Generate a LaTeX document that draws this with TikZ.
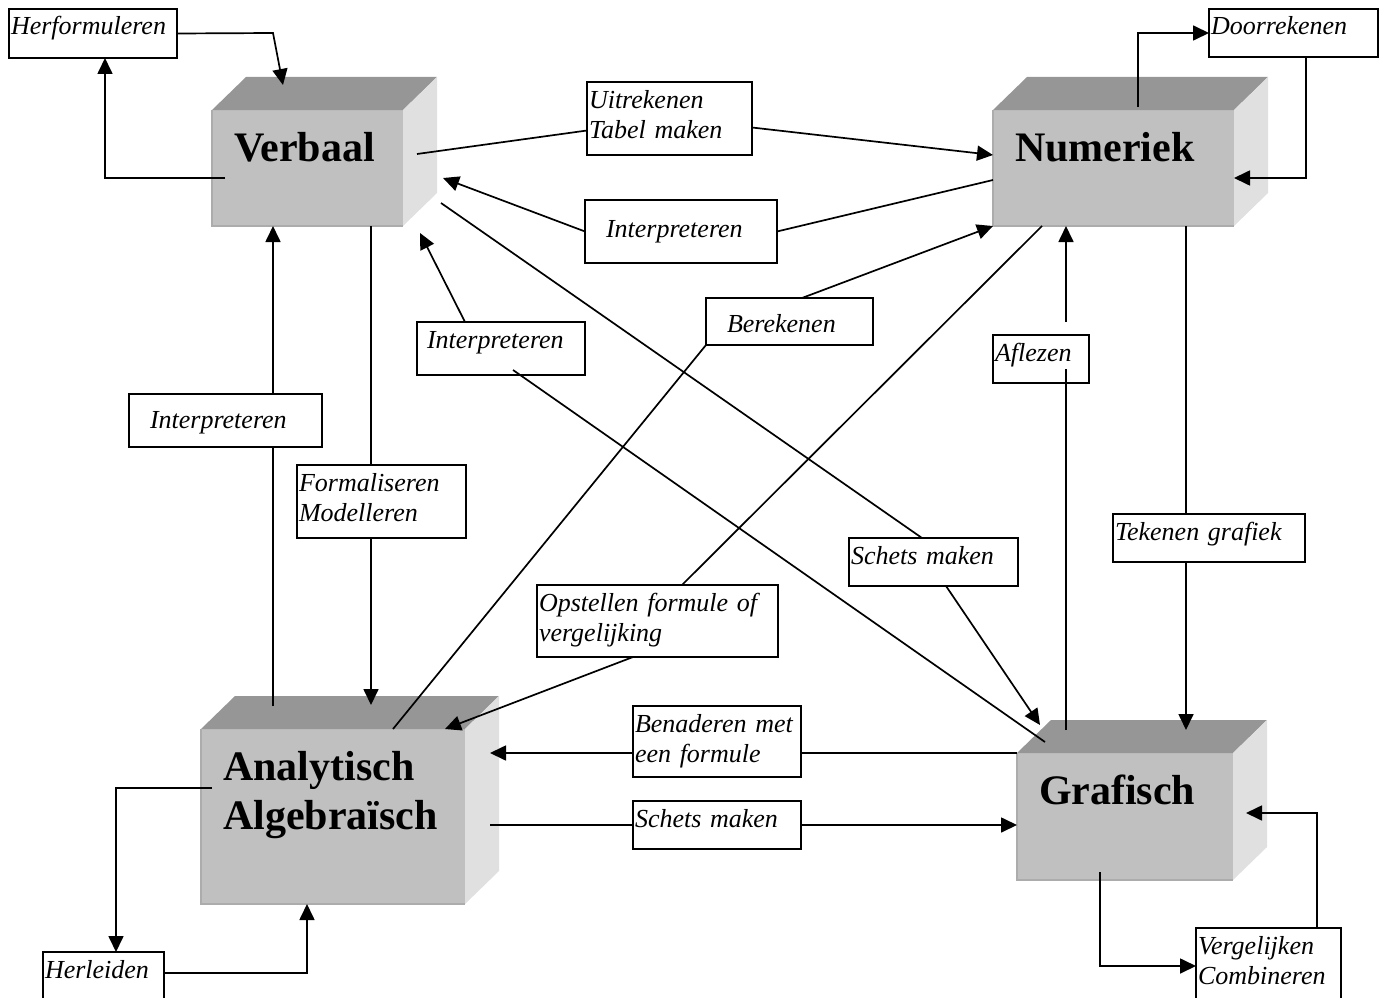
\documentclass[tikz,border=0pt]{standalone}
\usepackage{fontspec}
\setmainfont{Liberation Serif}
\usepackage{tikz}
\usetikzlibrary{arrows.meta}

\definecolor{frontgray}{RGB}{192,192,192}
\definecolor{topgray}{RGB}{150,150,150}
\definecolor{sidegray}{RGB}{224,224,224}
\definecolor{edgegray}{RGB}{172,172,172}

\begin{document}
\begin{tikzpicture}[x=1pt, y=-1pt, >={Triangle[length=16pt, width=15pt]},
    blok/.style={fill=frontgray, anchor=north west, inner xsep=22pt, inner ysep=0pt, outer sep=0pt, text height=51pt, align=left, font=\bfseries\fontsize{42}{49}\selectfont},
    lbl/.style={draw, line width=1.8pt, fill=white, anchor=north west, inner xsep=2pt, inner ysep=3pt, outer sep=0pt, text height=23pt, align=left, font=\itshape\fontsize{26}{30}\selectfont},
    conn/.style={line width=1.7pt}]
    \useasboundingbox (0,0) rectangle (1379,998);

    % the four representations
    \node (verbaal) [blok, text width=147pt, text depth=65pt] at (212,110) {Verbaal};
    \node (numeriek) [blok, text width=197pt, text depth=65pt] at (993,110) {Numeriek};
    \node (analytisch) [blok, text width=220pt, text depth=124pt] at (201,729) {Analytisch\\Algebraïsch};
    \node (grafisch) [blok, text width=172pt, text depth=76pt] at (1017,753) {Grafisch};
    \foreach \n in {verbaal,numeriek,analytisch,grafisch} {
        \fill[topgray] (\n.north west) -- ++(34,-33) -- ([shift={(34,-33)}]\n.north east) -- (\n.north east) -- cycle;
        \fill[sidegray] (\n.north east) -- ++(34,-33) -- ([shift={(34,-33)}]\n.south east) -- (\n.south east) -- cycle;
        \draw[edgegray, line width=1.5pt] (\n.north west) -- (\n.south west) -- (\n.south east);
    }

    % activities
    \node (herf) [lbl, text width=164pt, text depth=20pt] at (9,9) {Herformuleren};
    \node (door) [lbl, text width=165pt, text depth=19pt] at (1209,9) {Doorrekenen};
    \node (uitr) [lbl, text width=161pt, text depth=44pt] at (587,82) {Uitrekenen\\Tabel maken};
    \node (interpA) [lbl, text width=188pt, text height=34pt, text depth=23pt] at (585,200) {\hspace*{19pt}Interpreteren};
    \node (interpB) [lbl, text width=164pt, text depth=24pt] at (417,322) {\hspace*{8pt}Interpreteren};
    \node (interpC) [lbl, text width=189pt, text height=31pt, text depth=16pt] at (129,394) {\hspace*{19pt}Interpreteren};
    \node (form) [lbl, text width=165pt, text depth=44pt] at (297,465) {Formaliseren\\Modelleren};
    \node (bere) [lbl, text width=163pt, text height=31pt, text depth=10pt] at (706,298) {\hspace*{19pt}Berekenen};
    \node (afle) [lbl, text width=92pt, text depth=19pt] at (993,335) {Aflezen};
    \node (opst) [lbl, text width=237pt, text depth=43pt] at (537,585) {Opstellen formule of\\vergelijking};
    \node (schetsA) [lbl, text width=165pt, text depth=19pt] at (849,538) {Schets maken};
    \node (teken) [lbl, text width=188pt, text depth=19pt] at (1113,514) {Tekenen grafiek};
    \node (bena) [lbl, text width=164pt, text depth=42pt] at (633,706) {Benaderen met\\een formule};
    \node (schetsB) [lbl, text width=164pt, text depth=19pt] at (633,801) {Schets maken};
    \node (herl) [lbl, text width=117pt, text depth=31pt] at (43,952) {Herleiden};
    \node (verg) [lbl, text width=141pt, text depth=51pt] at (1196,928) {Vergelijken\\Combineren};

    % verbaal
    \draw[conn, ->] (herf.east) -- ([shift={(61,-77)}]verbaal.north west) -- ([shift={(71,-25)}]verbaal.north west);
    \draw[conn, ->] ([shift={(13,68)}]verbaal.north west) -| ([xshift=12pt]herf.south);
    \draw[conn] ([shift={(205,44)}]verbaal.north west) -- ([yshift=-12pt]uitr.west);
    \draw[conn, ->] ([yshift=-9pt]uitr.east) -- ([yshift=13pt]numeriek.west);
    \draw[conn] ([yshift=-12pt]numeriek.west) -- (interpA.east);
    \draw[conn, ->] (interpA.west) -- ([shift={(231,68)}]verbaal.north west);
    \draw[conn] ([xshift=-32pt]verbaal.south east) -- ([xshift=-10.5pt]form.north);
    \draw[conn, ->] ([xshift=-10.5pt]form.south) -- ([shift={(170,-24)}]analytisch.north west);
    \draw[conn] ([shift={(72,-23)}]analytisch.north west) -- ([xshift=47.5pt]interpC.south);
    \draw[conn, ->] ([xshift=47.5pt]interpC.north) -- ([xshift=61pt]verbaal.south west);
    \draw[conn] ([shift={(28,-11)}]grafisch.north west) -- ([shift={(12,-5)}]interpB.south);
    \draw[conn, ->] ([xshift=-36pt]interpB.north) -- ([shift={(208,123)}]verbaal.north west);
    \draw[conn] ([shift={(229,93)}]verbaal.north west) -- ([xshift=-11.5pt]schetsA.north);
    \draw[conn, ->] ([xshift=12.5pt]schetsA.south) -- ([shift={(23,-28)}]grafisch.north west);

    % numeriek
    \draw[conn] ([xshift=192pt]analytisch.north west) -- (bere.south west);
    \draw[conn, ->] ([xshift=12.5pt]bere.north) -- (numeriek.south west);
    \draw[conn] ([xshift=49pt]numeriek.south west) -- ([xshift=24.5pt]opst.north);
    \draw[conn, ->] ([xshift=-24.5pt]opst.south) -- ([xshift=-20pt]analytisch.north east);
    \draw[conn] ([shift={(49,-23)}]grafisch.north west) -- ([shift={(25,-14)}]afle.south);
    \draw[conn, ->] ([shift={(25,-13)}]afle.north) -- ([xshift=73pt]numeriek.south west);
    \draw[conn] ([xshift=-48pt]numeriek.south east) -- ([xshift=-23pt]teken.north);
    \draw[conn, ->] ([xshift=-23pt]teken.south) -- ([shift={(169,-23)}]grafisch.north west);
    \draw[conn, ->] ([shift={(145,-3)}]numeriek.north west) |- (door.west);
    \draw[conn, ->] ([xshift=12.5pt]door.south) |- ([yshift=-10pt]numeriek.east);

    % analytisch en grafisch
    \draw[conn] (grafisch.north west) -- ([yshift=-11.5pt]bena.east);
    \draw[conn, ->] ([yshift=-11.5pt]bena.west) -- ([shift={(25,24)}]analytisch.north east);
    \draw[conn] ([shift={(25,96)}]analytisch.north east) -- (schetsB.west);
    \draw[conn, ->] (schetsB.east) -- ([yshift=-8.5pt]grafisch.west);
    \draw[conn, ->] ([shift={(11,59)}]analytisch.north west) -| ([xshift=12.5pt]herl.north);
    \draw[conn, ->] ([yshift=-21pt]herl.north east) -| ([xshift=106pt]analytisch.south west);
    \draw[conn, ->] ([shift={(83,-8)}]grafisch.south west) |- ([yshift=-38pt]verg.north west);
    \draw[conn, ->] ([xshift=121pt]verg.north west) |- ([shift={(13,-3.5)}]grafisch.east);
\end{tikzpicture}
\end{document}
